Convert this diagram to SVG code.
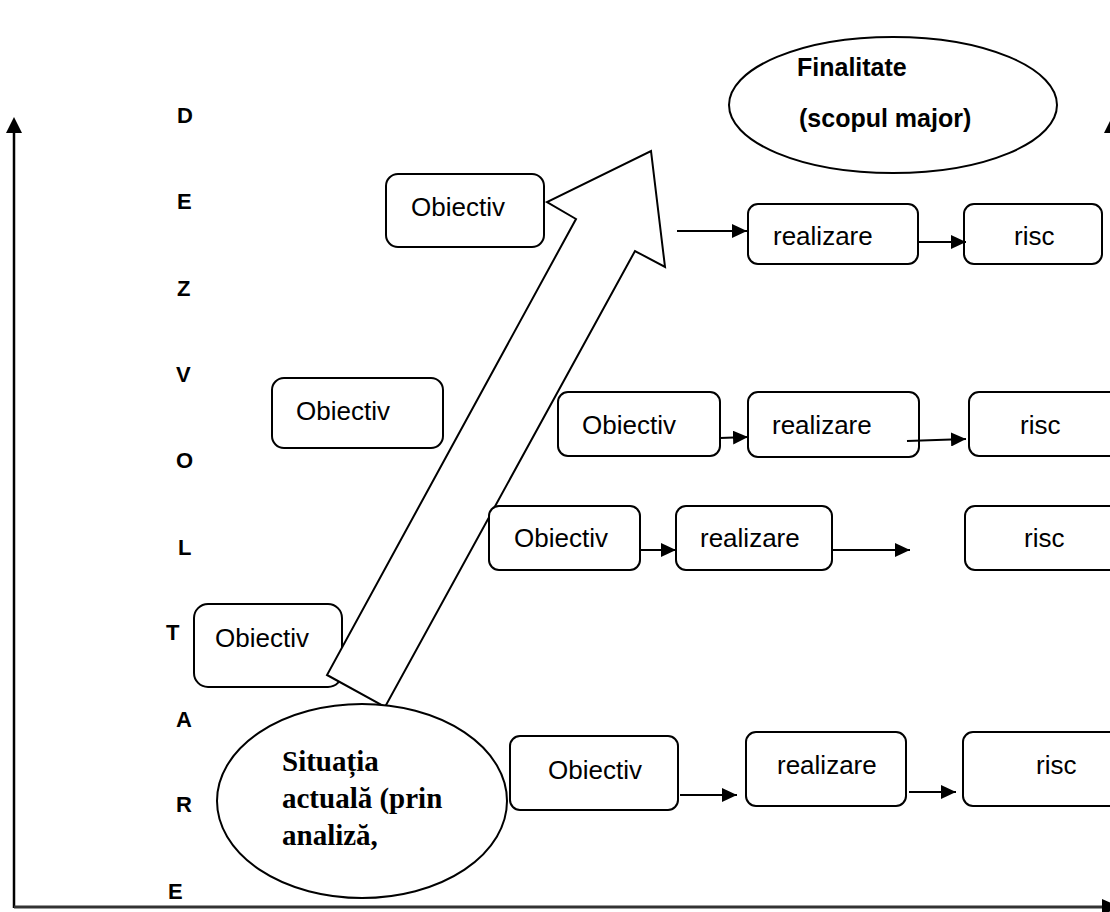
<svg xmlns="http://www.w3.org/2000/svg" width="1110" height="912" viewBox="0 0 1110 912">
  <defs>
    <style>
      .box { fill: #fff; stroke: #000; stroke-width: 2; }
      .oval { fill: #fff; stroke: #000; stroke-width: 2; }
      .lbl { font-family: "Liberation Sans", Arial, sans-serif; font-size: 26px; fill: #000; }
      .axis-letter { font-family: "Liberation Sans", Arial, sans-serif; font-size: 22px; font-weight: bold; fill: #000; }
      .goal { font-family: "Liberation Sans", Arial, sans-serif; font-size: 25px; font-weight: bold; fill: #000; }
      .start { font-family: "Liberation Serif", "Times New Roman", serif; font-size: 29px; font-weight: bold; fill: #000; }
      .link { fill: none; stroke: #000; stroke-width: 2; marker-end: url(#head); }
    </style>
    <marker id="head" markerUnits="userSpaceOnUse" markerWidth="16" markerHeight="14" refX="15" refY="7" orient="auto">
      <path d="M0,0 L15,7 L0,14 Z" fill="#000"/>
    </marker>
  </defs>

  <rect width="1110" height="912" fill="#fff"/>

  <!-- axes -->
  <g id="axes">
    <line x1="14" y1="132" x2="14" y2="908" stroke="#000" stroke-width="2.5"/>
    <polygon points="6,133 14,117 22,133" fill="#000"/>
    <line x1="14" y1="907" x2="1104" y2="907" stroke="#333" stroke-width="3"/>
    <polygon points="1102,899 1120,907 1102,915" fill="#000"/>
    <polygon points="1104,133 1112,117 1120,133" fill="#000"/>
  </g>

  <!-- vertical caption DEZVOLTARE -->
  <g id="caption">
    <text class="axis-letter" x="177" y="123">D</text>
    <text class="axis-letter" x="177" y="209">E</text>
    <text class="axis-letter" x="177" y="296">Z</text>
    <text class="axis-letter" x="176" y="382">V</text>
    <text class="axis-letter" x="176" y="468">O</text>
    <text class="axis-letter" x="178" y="555">L</text>
    <text class="axis-letter" x="166" y="640">T</text>
    <text class="axis-letter" x="176" y="727">A</text>
    <text class="axis-letter" x="176" y="812">R</text>
    <text class="axis-letter" x="168" y="899">E</text>
  </g>

  <!-- goal -->
  <g id="finalitate">
    <ellipse class="oval" cx="893" cy="105" rx="164" ry="68"/>
    <text class="goal" x="797" y="76">Finalitate</text>
    <text class="goal" x="799" y="127">(scopul major)</text>
  </g>

  <!-- objectives on the left -->
  <g id="obiectiv-1">
    <rect class="box" x="386" y="174" width="158" height="73" rx="12"/>
    <text class="lbl" x="411" y="216">Obiectiv</text>
  </g>
  <g id="obiectiv-2">
    <rect class="box" x="272" y="378" width="171" height="70" rx="12"/>
    <text class="lbl" x="296" y="420">Obiectiv</text>
  </g>
  <g id="obiectiv-3">
    <rect class="box" x="194" y="604" width="148" height="83" rx="14"/>
    <text class="lbl" x="215" y="647">Obiectiv</text>
  </g>

  <!-- big progress arrow -->
  <g id="progres">
    <polygon points="576,219 547,202 651,151 665,267 635,251 385,707 327,675" fill="#fff" stroke="#000" stroke-width="2" stroke-linejoin="miter"/>
  </g>

  <!-- start point -->
  <g id="situatia">
    <ellipse class="oval" cx="362" cy="801" rx="145" ry="97"/>
    <text class="start" x="282" y="771">Situația</text>
    <text class="start" x="282" y="808">actuală (prin</text>
    <text class="start" x="282" y="845">analiză,</text>
  </g>

  <!-- row 1 -->
  <g id="realizare-1">
    <rect class="box" x="748" y="204" width="170" height="60" rx="10"/>
    <text class="lbl" x="773" y="245">realizare</text>
  </g>
  <g id="risc-1">
    <rect class="box" x="964" y="204" width="138" height="60" rx="10"/>
    <text class="lbl" x="1014" y="245">risc</text>
  </g>

  <!-- row 2 -->
  <g id="obiectiv-4">
    <rect class="box" x="558" y="392" width="162" height="64" rx="10"/>
    <text class="lbl" x="582" y="434">Obiectiv</text>
  </g>
  <g id="realizare-2">
    <rect class="box" x="748" y="392" width="171" height="65" rx="10"/>
    <text class="lbl" x="772" y="434">realizare</text>
  </g>
  <g id="risc-2">
    <rect class="box" x="969" y="392" width="150" height="64" rx="10"/>
    <text class="lbl" x="1020" y="434">risc</text>
  </g>

  <!-- row 3 -->
  <g id="obiectiv-5">
    <rect class="box" x="489" y="506" width="151" height="64" rx="10"/>
    <text class="lbl" x="514" y="547">Obiectiv</text>
  </g>
  <g id="realizare-3">
    <rect class="box" x="676" y="506" width="156" height="64" rx="10"/>
    <text class="lbl" x="700" y="547">realizare</text>
  </g>
  <g id="risc-3">
    <rect class="box" x="965" y="506" width="155" height="64" rx="10"/>
    <text class="lbl" x="1024" y="547">risc</text>
  </g>

  <!-- row 4 -->
  <g id="obiectiv-6">
    <rect class="box" x="510" y="736" width="168" height="74" rx="10"/>
    <text class="lbl" x="548" y="779">Obiectiv</text>
  </g>
  <g id="realizare-4">
    <rect class="box" x="746" y="732" width="160" height="74" rx="10"/>
    <text class="lbl" x="777" y="774">realizare</text>
  </g>
  <g id="risc-4">
    <rect class="box" x="963" y="732" width="157" height="74" rx="10"/>
    <text class="lbl" x="1036" y="774">risc</text>
  </g>

  <!-- connectors -->
  <g id="connectors">
    <line class="link" x1="677" y1="231" x2="747" y2="231"/>
    <line class="link" x1="918" y1="242" x2="966" y2="242"/>
    <line class="link" x1="720" y1="438" x2="748" y2="437"/>
    <line class="link" x1="907" y1="441" x2="966" y2="439"/>
    <line class="link" x1="640" y1="550" x2="676" y2="550"/>
    <line class="link" x1="832" y1="550" x2="910" y2="550"/>
    <line class="link" x1="680" y1="795" x2="737" y2="795"/>
    <line class="link" x1="909" y1="792" x2="956" y2="792"/>
  </g>
</svg>
